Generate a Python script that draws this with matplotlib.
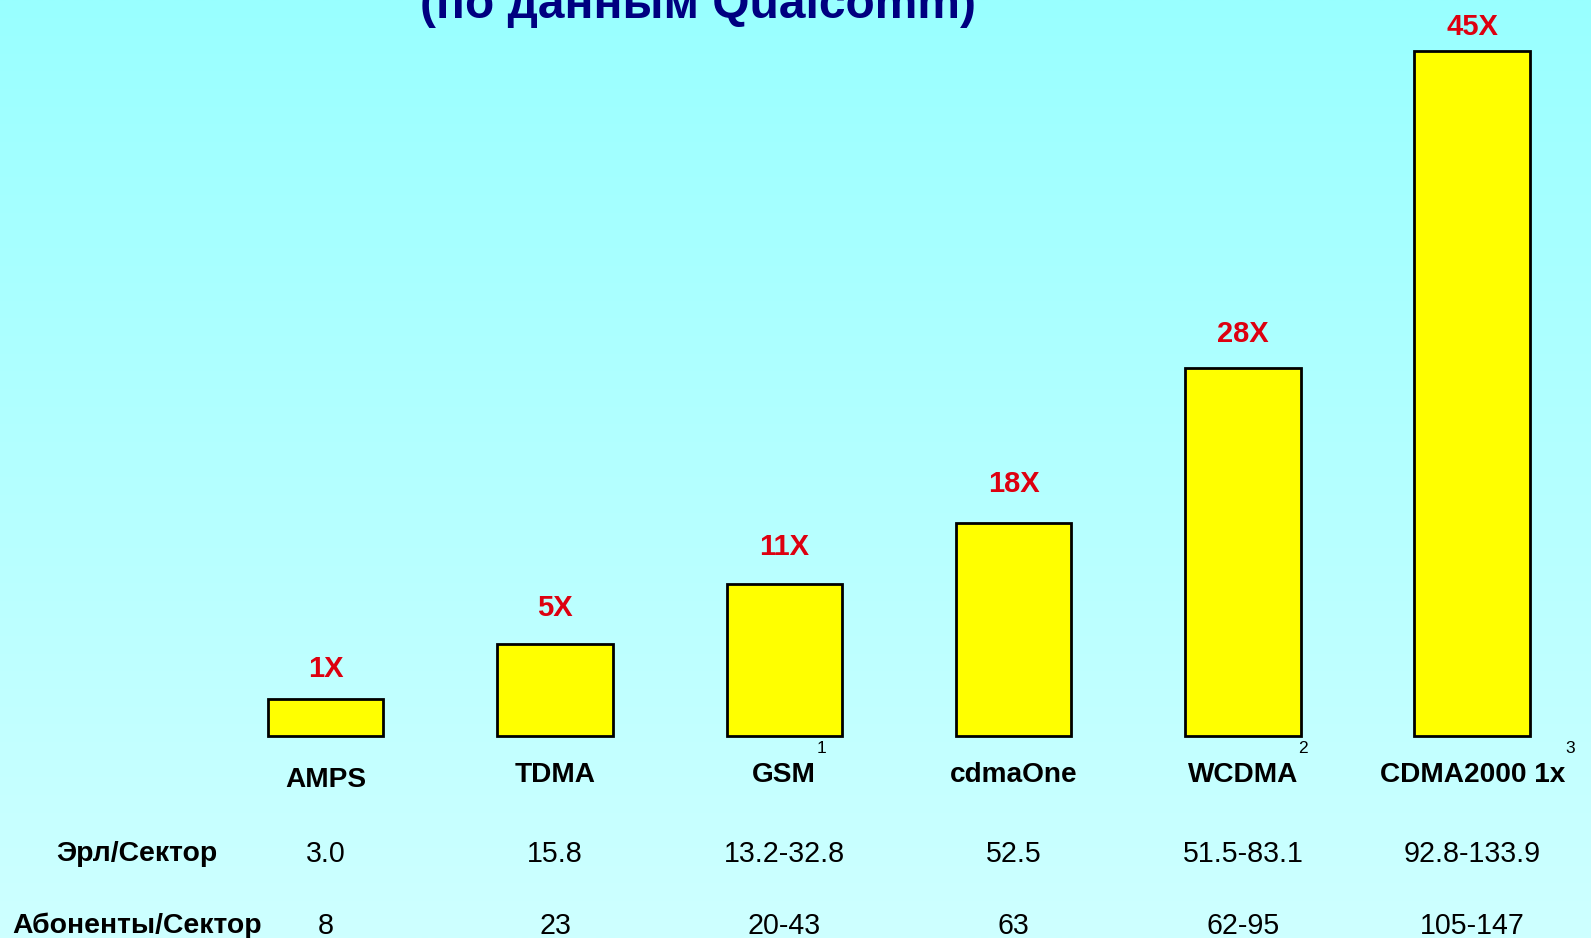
import numpy as np
import matplotlib
matplotlib.use("Agg")
import matplotlib.pyplot as plt

# ---- data ----
categories = ['AMPS', 'TDMA', 'GSM', 'cdmaOne', 'WCDMA', 'CDMA2000 1x']
bar_heights = [36.5, 91.3, 152.1, 213.0, 367.3, 684.9]
capacity_labels = ['1X', '5X', '11X', '18X', '28X', '45X']
footnotes = ['', '', '1', '', '2', '3']
row_labels = ['Эрл/Сектор', 'Абоненты/Сектор']
erl_per_sector = ['3.0', '15.8', '13.2-32.8', '52.5', '51.5-83.1', '92.8-133.9']
subs_per_sector = ['8', '23', '20-43', '63', '62-95', '105-147']
title = '(по данным Qualcomm)'

plt.rcParams['font.family'] = ['Liberation Sans', 'DejaVu Sans']

W, H, DPI = 1591, 938, 100
fig = plt.figure(figsize=(W / DPI, H / DPI), dpi=DPI)
ax = fig.add_axes([0, 0, 1, 1])

# layout (pixels)
x0_px, step_px, base_px = 325.7, 229.3, 735.6
ax.set_xlim(-x0_px / step_px, (W - x0_px) / step_px)
ax.set_ylim(-(H - base_px), base_px)
ax.axis('off')

# background gradient
top = np.array([153, 255, 255]) / 255
bot = np.array([206, 255, 255]) / 255
t = np.linspace(0, 1, 256)[:, None]
grad = (top[None, :] * (1 - t) + bot[None, :] * t)[:, None, :]
ax.imshow(grad, extent=[0, 1, 0, 1], transform=ax.transAxes, aspect='auto',
          zorder=0, interpolation='bilinear')

x = np.arange(len(categories))
ax.bar(x, bar_heights, width=115.5 / step_px, color='#FFFF00',
       edgecolor='black', linewidth=2, zorder=2)

# gap (px) between bar top and centre of its capacity label
label_gap = [30.5, 36.5, 36.5, 38.5, 34.5, 23.5]
for xi, h, lab, g in zip(x, bar_heights, capacity_labels, label_gap):
    ax.text(xi, h + g, lab, ha='center', va='center', fontsize=21,
            fontweight='bold', color='#DD0010', zorder=3)

cat_y = [-44.5, -39.5, -39.5, -39.5, -39.5, -39.5]
for xi, cat, fn, cy in zip(x, categories, footnotes, cat_y):
    t_ = ax.text(xi, cy, cat, ha='center', va='center', fontsize=20.2,
                 fontweight='bold', color='black', zorder=3)
    if fn:
        ax.annotate(fn, xy=(1.0, 1.0), xycoords=t_, xytext=(0, 4.5),
                    textcoords='offset points', ha='left', va='bottom',
                    fontsize=12.5, color='black')

row_y = [-118.5, -190.5]
row_label_x = (137 - x0_px) / step_px
for ry, rl, vals in zip(row_y, row_labels, [erl_per_sector, subs_per_sector]):
    ax.text(row_label_x, ry, rl, ha='center', va='center', fontsize=20.4,
            fontweight='bold', color='black')
    for xi, v in zip(x, vals):
        ax.text(xi, ry, v, ha='center', va='center', fontsize=20.6,
                color='black')

fig.text(698 / W, 1 - 18 / H, title, ha='center', va='baseline', fontsize=34.5,
         fontweight='bold', color='#000080')

fig.savefig('out.png', dpi=DPI)
